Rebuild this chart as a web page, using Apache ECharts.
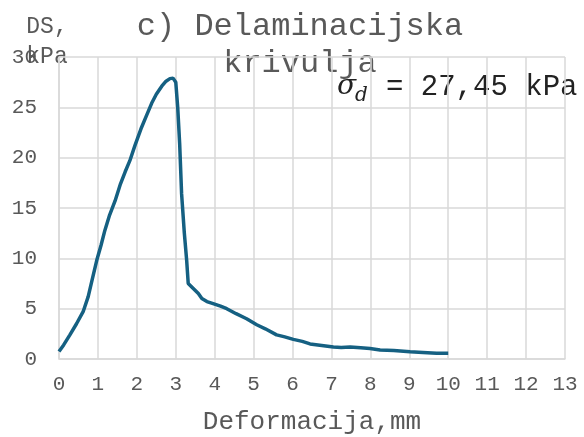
<!DOCTYPE html>
<html>
<head>
<meta charset="utf-8">
<script src="https://cdn.jsdelivr.net/npm/echarts@6/dist/echarts.min.js"></script>
<style>
  html, body { margin: 0; padding: 0; background: #fff; }
  #delam-chart { width: 584px; height: 437px; }
</style>
</head>
<body>
<div id="delam-chart"></div>
<script>
  // deformacija (mm) i posmična čvrstoća DS (kPa), očitano s krivulje
  const deformacija = [0, 0.12, 0.28, 0.45, 0.62, 0.75, 0.86, 0.97, 1.08, 1.18, 1.3, 1.44, 1.58, 1.7, 1.82,
    1.95, 2.12, 2.25, 2.38, 2.5, 2.64, 2.75, 2.85, 2.93, 3.0, 3.05, 3.1, 3.15, 3.22, 3.28, 3.32, 3.45,
    3.58, 3.67, 3.8, 3.96, 4.15, 4.31, 4.55, 4.82, 5.08, 5.3, 5.59, 5.8, 6.02, 6.25, 6.45, 6.75, 7.05,
    7.25, 7.48, 7.75, 7.99, 8.25, 8.6, 9.02, 9.35, 9.7, 10.0]
  const ds = [0.75, 1.4, 2.4, 3.5, 4.7, 6.2, 8.0, 9.8, 11.3, 12.8, 14.3, 15.7, 17.4, 18.6, 19.7,
    21.2, 23.0, 24.2, 25.4, 26.3, 27.1, 27.6, 27.85, 27.9, 27.5, 25, 21.4, 16.4, 12.5, 9.8, 7.5, 7.0,
    6.5, 6.0, 5.7, 5.5, 5.25, 5.0, 4.5, 4.0, 3.4, 3.0, 2.4, 2.2, 1.95, 1.75, 1.5, 1.35, 1.2,
    1.15, 1.2, 1.12, 1.05, 0.9, 0.85, 0.72, 0.65, 0.56, 0.56]
  const naslov = 'c) Delaminacijska\nkrivulja'
  const sigmaTekst = '= 27,45 kPa'

  const mono = 'Liberation Mono'
  const siva = '#595959'
  const chart = echarts.init(document.getElementById('delam-chart'))

  chart.setOption({
    animation: false,
    grid: { left: 59, right: 19, top: 57, bottom: 78, outerBoundsMode: 'none' },
    xAxis: {
      type: 'value',
      min: 0,
      max: 13,
      interval: 1,
      name: 'Deformacija,mm',
      nameLocation: 'middle',
      nameGap: 50,
      nameTextStyle: { fontFamily: mono, fontSize: 26, color: siva },
      axisLine: { lineStyle: { color: '#d9d9d9', width: 1.5 } },
      axisTick: { show: false },
      axisLabel: { fontFamily: mono, fontSize: 21, color: siva, margin: 15 },
      splitLine: { lineStyle: { color: '#d9d9d9', width: 1.5 } }
    },
    yAxis: {
      type: 'value',
      min: 0,
      max: 30,
      interval: 5,
      axisLine: { show: true, lineStyle: { color: '#d9d9d9', width: 1.5 } },
      axisTick: { show: false },
      axisLabel: { fontFamily: mono, fontSize: 21, color: siva, margin: 22 },
      splitLine: { lineStyle: { color: '#d9d9d9', width: 1.5 } }
    },
    graphic: [
      {
        type: 'text', x: 300, y: 8,
        style: { text: naslov, fontFamily: mono, fontSize: 32, lineHeight: 37, fill: siva, align: 'center' }
      },
      {
        type: 'text', x: 47, y: 12,
        style: { text: 'DS,\nkPa', fontFamily: mono, fontSize: 23, lineHeight: 30, fill: siva, align: 'center' }
      },
      {
        type: 'text', x: 337, y: 73,
        style: { text: 'σ', fontFamily: 'DejaVu Serif', fontStyle: 'italic', fontSize: 28, fill: '#222' }
      },
      {
        type: 'text', x: 355, y: 86,
        style: { text: 'd', fontFamily: 'DejaVu Serif', fontStyle: 'italic', fontSize: 20, fill: '#222' }
      },
      {
        type: 'text', x: 386, y: 73,
        style: { text: sigmaTekst, fontFamily: mono, fontSize: 29, fill: '#222' }
      }
    ],
    series: [{
      type: 'line',
      data: deformacija.map((x, i) => [x, ds[i]]),
      showSymbol: false,
      lineStyle: { color: '#156082', width: 3.5 },
      z: 3
    }]
  })
</script>
</body>
</html>
